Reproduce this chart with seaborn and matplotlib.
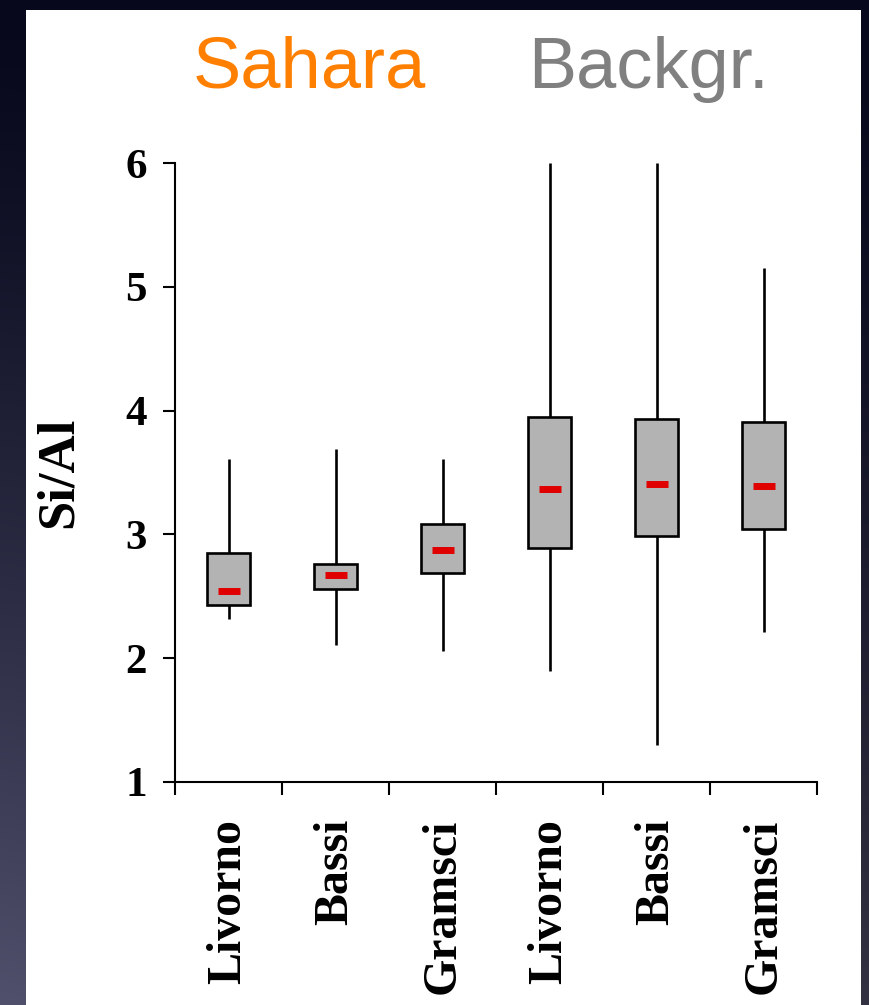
import numpy as np
import pandas as pd
import matplotlib
matplotlib.use("Agg")
import matplotlib.pyplot as plt
import matplotlib.patches as mpatches
import seaborn as sns

# Si/Al ratio per site, Saharan-dust days vs. background days
groups = ["Sahara", "Sahara", "Sahara", "Backgr.", "Backgr.", "Backgr."]
sites = ["Livorno", "Bassi", "Gramsci", "Livorno", "Bassi", "Gramsci"]
whisker_low = [2.32, 2.11, 2.06, 1.90, 1.30, 2.21]
quart1 = [2.43, 2.56, 2.69, 2.89, 2.99, 3.04]
median = [2.54, 2.67, 2.87, 3.37, 3.41, 3.39]
quart3 = [2.85, 2.76, 3.08, 3.95, 3.93, 3.91]
whisker_high = [3.61, 3.69, 3.61, 6.00, 6.00, 5.15]
y_ticks = [1, 2, 3, 4, 5, 6]

keys = [f"{g} {s}" for g, s in zip(groups, sites)]

# five-number summaries -> long table; with 5 sorted values the
# quartiles of the boxplot fall exactly on the 2nd/3rd/4th values
rows = []
for k, a, b, c, d, e in zip(keys, whisker_low, quart1, median, quart3, whisker_high):
    for v in (a, b, c, d, e):
        rows.append({"key": k, "value": v})
df = pd.DataFrame(rows)
med_df = pd.DataFrame({"key": keys, "value": median})

sns.set_theme(style="ticks")
plt.rcParams["font.family"] = ["Liberation Serif", "DejaVu Serif"]

W, H = 869, 1005
fig = plt.figure(figsize=(W / 100, H / 100), dpi=100)

# dark slide backdrop with a soft vertical gradient and a white panel
bg = fig.add_axes([0, 0, 1, 1], zorder=0)
yy = np.linspace(0, 1, 200)[:, None]
xx = np.linspace(0, 1, 60)[None, :]
top = np.array([8, 8, 28]) / 255
bot_left = np.array([80, 80, 108]) / 255
bot_right = np.array([50, 50, 66]) / 255
t = yy ** 1.3
bottom = bot_left[None, None, :] * (1 - xx[..., None]) + bot_right[None, None, :] * xx[..., None]
grad = top[None, None, :] * (1 - t[..., None]) + bottom * t[..., None]
bg.imshow(grad, extent=[0, W, H, 0], aspect="auto", interpolation="bilinear")
bg.add_patch(mpatches.Rectangle((26, 10), 861 - 26, H - 10, facecolor="white", edgecolor="none"))
bg.set_xlim(0, W)
bg.set_ylim(H, 0)
bg.axis("off")

x0, x1, y_top, y_bot = 175, 817, 163, 782
ax = fig.add_axes([x0 / W, 1 - y_bot / H, (x1 - x0) / W, (y_bot - y_top) / H], zorder=1)
ax.set_facecolor("white")

sns.boxplot(
    data=df, x="key", y="value", order=keys, whis=(0, 100), width=0.41,
    color="#b3b3b3", saturation=1, linecolor="black", linewidth=1.9,
    showcaps=False, showfliers=False, medianprops={"visible": False}, ax=ax,
)
sns.pointplot(
    data=med_df, x="key", y="value", order=keys, errorbar=None,
    linestyle="none", marker="_", markersize=16, markeredgewidth=5,
    color="#e00000", ax=ax, zorder=5,
)

ax.set_xlim(-0.5, 5.5)
ax.set_ylim(1, 6)
ax.set_yticks(y_ticks)
ax.set_yticklabels([str(v) for v in y_ticks])
ax.set_xticks(range(len(sites)))
ax.set_xticklabels(sites, rotation=90, va="top", ha="center")
ax.set_xticks(np.arange(-0.5, len(sites), 1), minor=True)
ax.tick_params(axis="x", which="major", length=0, pad=26.5,
               labelsize=34.5, labelcolor="black")
ax.tick_params(axis="x", which="minor", length=9, width=1.5, color="black", direction="out")
ax.tick_params(axis="y", which="major", length=8.6, width=1.5, color="black",
               direction="out", pad=11.5, labelsize=31, labelcolor="black")
for lbl in ax.get_xticklabels() + ax.get_yticklabels():
    lbl.set_fontweight("bold")

ax.set_xlabel("")
ax.set_ylabel("Si/Al", fontsize=38, fontweight="bold", color="black", va="center")
ax.yaxis.set_label_coords((59 - x0) / (x1 - x0), 0.5)

sns.despine(ax=ax)
for side in ("left", "bottom"):
    ax.spines[side].set_linewidth(1.5)
    ax.spines[side].set_color("black")

# group headings
fig.text(193 / W, 1 - 88 / H, "Sahara", color="#ff8000", fontsize=52,
         family=["Liberation Sans", "DejaVu Sans"], ha="left", va="baseline", zorder=3)
fig.text(528 / W, 1 - 88 / H, "Backgr.", color="#808080", fontsize=52,
         family=["Liberation Sans", "DejaVu Sans"], ha="left", va="baseline", zorder=3)

fig.savefig("out.png", dpi=100)
